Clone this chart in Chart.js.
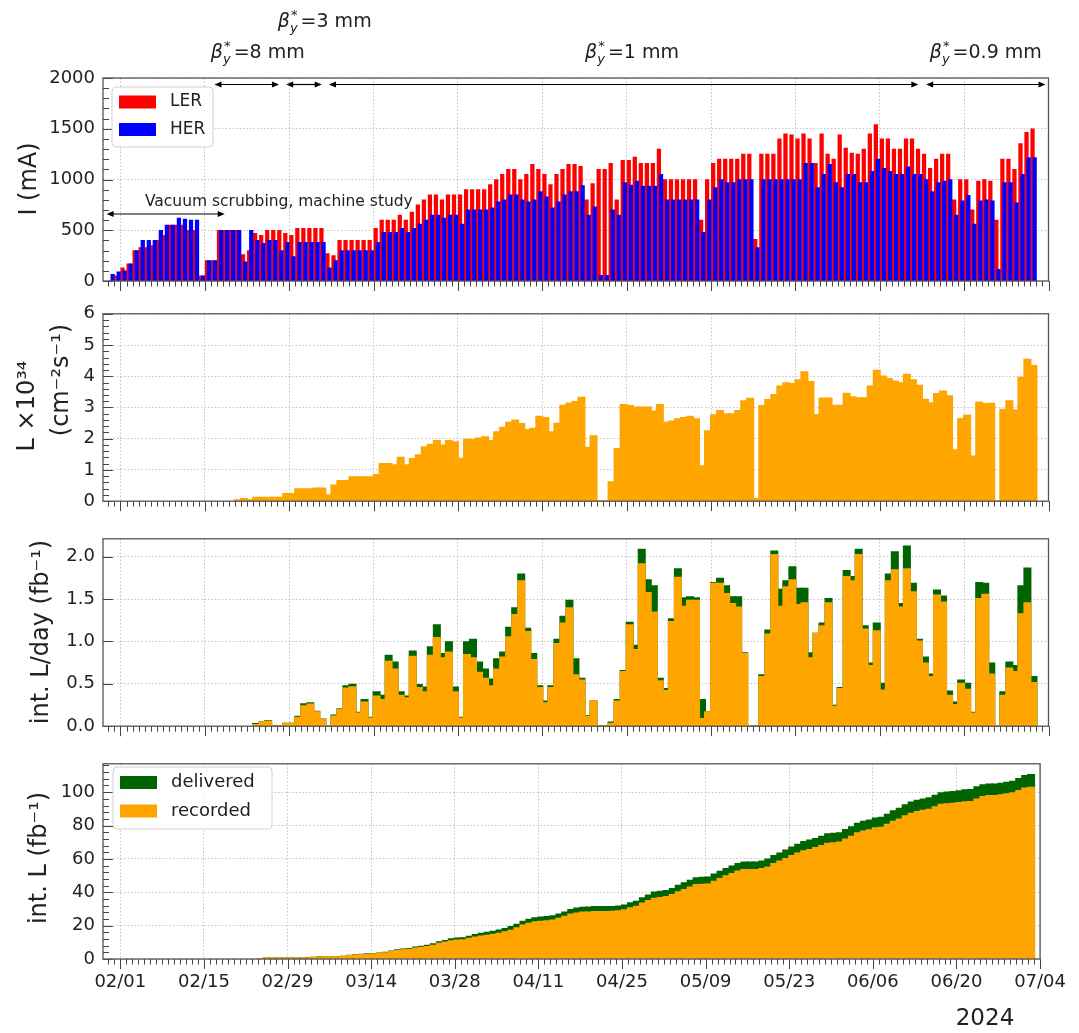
<!DOCTYPE html>
<html>
<head>
<meta charset="utf-8">
<script src="https://cdn.jsdelivr.net/npm/chart.js@4.4.1/dist/chart.umd.min.js"></script>
<style>
    body { margin: 0; background: #fff; }
    #wrap { position: relative; width: 1079px; height: 1033px; overflow: hidden; }
    canvas { position: absolute; left: 0; }
</style>
</head>
<body>
<div id="wrap">
    <canvas id="canvasCurrent" width="1079" height="300" style="top:0px"></canvas>
    <canvas id="canvasLumi" width="1079" height="225" style="top:295px"></canvas>
    <canvas id="canvasDaily" width="1079" height="225" style="top:520px"></canvas>
    <canvas id="canvasIntegrated" width="1079" height="288" style="top:745px"></canvas>
</div>
<script>
"use strict";

// x axis: days counted from 02/01/2024
var tickDays = [0, 14, 28, 42, 56, 70, 84, 98, 112, 126, 140, 154];
var tickLabels = ['02/01', '02/15', '02/29', '03/14', '03/28', '04/11', '04/25', '05/09', '05/23', '06/06', '06/20', '07/04'];

// beam currents (mA), one value per day starting at currentStart
var currentStart = -2;
var lerCurrent = [
    0, 50, 130, 170, 300, 330, 330, 350, 400, 450, 550, 550, 550, 500, 500, 50,
    200, 200, 500, 500, 500, 500, 260, 300, 470, 450, 500, 500, 500, 470, 450, 520,
    520, 520, 520, 520, 270, 250, 400, 400, 400, 400, 400, 400, 520, 600, 600, 600,
    650, 600, 680, 750, 800, 850, 850, 800, 850, 850, 850, 900, 900, 900, 900, 950,
    1000, 1050, 1100, 1100, 1000, 1050, 1150, 1100, 1050, 950, 1050, 1100, 1150, 1150, 1130, 800,
    960, 1100, 1100, 1160, 800, 1190, 1190, 1220, 1160, 1160, 1160, 1300, 1000, 1000, 1000, 1000,
    1000, 1000, 600, 1000, 1160, 1200, 1200, 1200, 1200, 1250, 1250, 410, 1250, 1250, 1250, 1400,
    1450, 1440, 1400, 1450, 1400, 1160, 1450, 1250, 1200, 1440, 1310, 1260, 1250, 1300, 1450, 1540,
    1400, 1400, 1300, 1300, 1400, 1400, 1300, 1250, 1110, 1200, 1250, 1250, 800, 1000, 1000, 700,
    985, 1000, 985, 600, 1200, 1200, 1100, 1355, 1465, 1500
];
var herCurrent = [
    65, 90, 100, 170, 300, 400, 400, 400, 500, 550, 550, 620, 610, 600, 600, 50,
    200, 200, 500, 500, 500, 500, 190, 500, 400, 370, 400, 400, 300, 380, 240, 380,
    380, 380, 380, 380, 130, 200, 300, 300, 300, 300, 300, 300, 380, 480, 480, 480,
    520, 480, 520, 560, 600, 650, 650, 620, 650, 650, 560, 700, 700, 700, 700, 720,
    780, 800, 850, 850, 800, 780, 800, 880, 830, 720, 780, 850, 880, 880, 940, 650,
    730, 55, 55, 700, 650, 970, 945, 985, 935, 935, 935, 1050, 800, 800, 800, 800,
    800, 800, 480, 800, 920, 1000, 970, 970, 1000, 1000, 1000, 330, 1000, 1000, 1000, 1000,
    1000, 1000, 1000, 1160, 1160, 920, 1050, 1150, 970, 920, 1050, 1050, 970, 970, 1080, 1200,
    1110, 1080, 1050, 1050, 1125, 1050, 1050, 1000, 880, 970, 985, 1000, 650, 790, 845, 560,
    790, 800, 790, 115, 970, 970, 770, 1050, 1215, 1215
];

// peak luminosity (10^34 cm^-2 s^-1), starting at lumiStart
var lumiStart = 19;
var peakLumi = [
    0.03, 0.07, 0.03, 0.11, 0.11, 0.11, 0.11, 0.11, 0.23, 0.23, 0.38, 0.38, 0.38, 0.41, 0.41, 0.19,
    0.50, 0.65, 0.65, 0.77, 0.77, 0.77, 0.77, 0.84, 1.19, 1.19, 1.15, 1.39, 1.15, 1.35, 1.47, 1.73,
    1.81, 1.93, 1.78, 1.93, 1.89, 1.36, 1.97, 1.97, 2.01, 2.05, 1.93, 2.21, 2.35, 2.51, 2.58, 2.47,
    2.28, 2.32, 2.70, 2.66, 2.21, 2.48, 3.06, 3.13, 3.18, 3.31, 1.71, 2.08, 0, 0, 0.61, 1.67,
    3.08, 3.05, 3.00, 3.00, 3.00, 2.87, 3.08, 2.51, 2.55, 2.62, 2.66, 2.70, 2.62, 1.12, 2.24, 2.75,
    2.89, 2.78, 2.78, 2.89, 3.20, 3.28, 0.07, 3.05, 3.24, 3.40, 3.67, 3.78, 3.75, 3.87, 4.13, 3.82,
    2.76, 3.29, 3.29, 3.06, 3.06, 3.44, 3.33, 3.30, 3.30, 3.67, 4.18, 3.99, 3.91, 3.83, 3.78, 4.05,
    3.87, 3.70, 3.25, 3.14, 3.43, 3.51, 3.36, 1.63, 2.63, 2.74, 1.43, 3.16, 3.11, 3.12, 0, 2.93,
    3.20, 2.90, 3.95, 4.53, 4.33
];

// integrated luminosity per day (fb^-1), starting at dailyStart
var dailyStart = 22;
var dailyDelivered = [
    0.026, 0.044, 0.06, 0, 0, 0.03, 0.03, 0.11, 0.26, 0.27, 0.17, 0.08, 0, 0.125, 0.20, 0.47,
    0.49, 0.16, 0.31, 0.10, 0.40, 0.36, 0.83, 0.75, 0.40, 0.35, 0.88, 0.485, 0.456, 0.93, 1.19, 0.85,
    0.99, 0.456, 0.10, 0.99, 1.02, 0.75, 0.67, 0.55, 0.79, 0.87, 1.16, 1.39, 1.79, 1.15, 0.85, 0.47,
    0.29, 0.47, 1.02, 1.29, 1.48, 0.79, 0.56, 0.12, 0.29, 0, 0, 0.044, 0.31, 0.65, 1.22, 0.95,
    2.08, 1.72, 1.65, 0.56, 0.44, 1.26, 1.85, 1.51, 1.52, 1.51, 0.31, 0.165, 1.69, 1.74, 1.65, 1.52,
    1.52, 0.86, 0, 0, 0.60, 1.13, 2.06, 1.61, 1.71, 1.875, 1.62, 1.62, 0.86, 1.09, 1.21, 1.50,
    0.24, 0.45, 1.83, 1.76, 2.08, 1.18, 0.74, 1.21, 0.50, 1.79, 2.05, 1.44, 2.12, 1.68, 1.02, 0.81,
    0.61, 1.60, 1.53, 0.41, 0.28, 0.54, 0.50, 0.16, 1.69, 1.68, 0.74, 0, 0.40, 0.75, 0.71, 1.65,
    1.86, 0.58
];
var dailyRecorded = [
    0.015, 0.04, 0.055, 0, 0, 0.03, 0.03, 0.10, 0.235, 0.255, 0.165, 0.075, 0, 0.115, 0.195, 0.445,
    0.46, 0.15, 0.28, 0.09, 0.35, 0.31, 0.76, 0.67, 0.36, 0.33, 0.82, 0.45, 0.40, 0.83, 1.04, 0.80,
    0.87, 0.40, 0.09, 0.84, 0.80, 0.63, 0.56, 0.47, 0.67, 0.81, 1.05, 1.31, 1.71, 1.11, 0.78, 0.45,
    0.27, 0.45, 0.97, 1.21, 1.39, 0.60, 0.54, 0.11, 0.29, 0, 0, 0.03, 0.29, 0.64, 1.19, 0.90,
    1.91, 1.57, 1.34, 0.53, 0.415, 1.23, 1.75, 1.41, 1.48, 1.48, 0.085, 0.165, 1.68, 1.68, 1.56, 1.44,
    1.40, 0.85, 0, 0, 0.58, 1.08, 2.02, 1.41, 1.64, 1.72, 1.43, 1.45, 0.80, 1.09, 1.18, 1.45,
    0.23, 0.44, 1.76, 1.71, 2.02, 1.14, 0.71, 1.12, 0.42, 1.71, 1.84, 1.40, 1.85, 1.58, 1.00, 0.74,
    0.58, 1.54, 1.46, 0.36, 0.25, 0.50, 0.43, 0.15, 1.50, 1.55, 0.61, 0, 0.36, 0.68, 0.64, 1.32,
    1.45, 0.51
];

// cumulative integrated luminosity (fb^-1), starting at intStart
var intStart = 23;
var intDelivered = [
    0.0, 0.1, 0.1, 0.1, 0.1, 0.2, 0.2, 0.3, 0.6, 0.8, 1.0, 1.1, 1.1, 1.2, 1.4, 1.9,
    2.4, 2.5, 2.8, 2.9, 3.3, 3.7, 4.5, 5.3, 5.7, 6.0, 6.9, 7.4, 7.9, 8.8, 10.0, 10.8,
    11.8, 12.3, 12.4, 13.4, 14.4, 15.1, 15.8, 16.4, 17.1, 18.0, 19.2, 20.6, 22.4, 23.5, 24.4, 24.8,
    25.1, 25.6, 26.6, 27.9, 29.4, 30.2, 30.7, 30.8, 31.1, 31.1, 31.1, 31.2, 31.5, 32.1, 33.4, 34.3,
    36.4, 38.1, 39.8, 40.3, 40.8, 42.0, 43.9, 45.4, 46.9, 48.4, 48.7, 48.9, 50.6, 52.3, 54.0, 55.5,
    57.0, 57.9, 57.9, 57.9, 58.5, 59.6, 61.7, 63.3, 65.0, 66.9, 68.5, 70.1, 71.0, 72.0, 73.3, 74.8,
    75.0, 75.4, 77.3, 79.0, 81.1, 82.3, 83.0, 84.2, 84.7, 86.5, 88.6, 90.0, 92.1, 93.8, 94.8, 95.6,
    96.3, 97.9, 99.4, 99.8, 100.1, 100.6, 101.1, 101.3, 103.0, 104.2, 104.6, 104.6, 105.0, 105.6, 106.3, 107.9,
    109.7, 110.3
];
var intRecorded = [
    0.0, 0.1, 0.1, 0.1, 0.1, 0.1, 0.2, 0.3, 0.5, 0.8, 0.9, 1.0, 1.0, 1.1, 1.3, 1.8,
    2.2, 2.4, 2.6, 2.7, 3.1, 3.4, 4.2, 4.8, 5.2, 5.5, 6.3, 6.8, 7.2, 8.0, 9.1, 9.9,
    10.7, 11.1, 11.2, 12.1, 12.9, 13.5, 14.0, 14.5, 15.2, 16.0, 17.0, 18.4, 20.1, 21.2, 22.0, 22.4,
    22.7, 23.1, 24.1, 25.3, 26.7, 27.3, 27.8, 27.9, 28.2, 28.2, 28.2, 28.3, 28.6, 29.2, 30.4, 31.3,
    33.2, 34.8, 36.1, 36.6, 37.1, 38.3, 40.0, 41.4, 42.9, 44.4, 44.5, 44.7, 46.3, 48.0, 49.6, 51.0,
    52.4, 53.3, 53.3, 53.3, 53.9, 54.9, 57.0, 58.4, 60.0, 61.7, 63.2, 64.6, 65.4, 66.5, 67.7, 69.1,
    69.4, 69.8, 71.6, 73.3, 75.3, 76.4, 77.1, 78.3, 78.7, 80.4, 82.2, 83.6, 85.5, 87.1, 88.1, 88.8,
    89.4, 90.9, 92.4, 92.7, 93.0, 93.5, 93.9, 94.1, 95.6, 97.1, 97.7, 97.7, 98.1, 98.8, 99.4, 100.7,
    102.2, 102.7
];

// beta* periods (labels and spans in days)
var betaLabels = ['=8 mm', '=3 mm', '=1 mm', '=0.9 mm'];
var betaFrom = [15.6, 27.5, 34.6, 133.7];
var betaTo = [26.3, 33.4, 132.4, 153.5];

var FONT = '"DejaVu Sans", sans-serif';
var TEXT = '#222';
var GRID = '#b4b4b4';
var X_MIN = -2.9;
var X_MAX = 154;

function series(start, values, shift) {
    return values.map(function (v, i) {
        return { x: start + i + shift, y: v };
    });
}

function font(size, style) {
    return (style ? style + ' ' : '') + size + 'px ' + FONT;
}

function drawRotated(ctx, text, x, y, size) {
    ctx.save();
    ctx.translate(x, y);
    ctx.rotate(-Math.PI / 2);
    ctx.font = font(size);
    ctx.fillStyle = TEXT;
    ctx.textAlign = 'center';
    ctx.textBaseline = 'middle';
    ctx.fillText(text, 0, 0);
    ctx.restore();
}

function drawArrow(ctx, x1, x2, y) {
    ctx.save();
    ctx.strokeStyle = '#000';
    ctx.fillStyle = '#000';
    ctx.lineWidth = 1.2;
    ctx.beginPath();
    ctx.moveTo(x1 + 4, y);
    ctx.lineTo(x2 - 4, y);
    ctx.stroke();
    [[x1, 1], [x2, -1]].forEach(function (p) {
        ctx.beginPath();
        ctx.moveTo(p[0], y);
        ctx.lineTo(p[0] + p[1] * 7, y - 3);
        ctx.lineTo(p[0] + p[1] * 7, y + 3);
        ctx.closePath();
        ctx.fill();
    });
    ctx.restore();
}

function drawBeta(ctx, x, y, rest, size) {
    ctx.save();
    ctx.fillStyle = TEXT;
    ctx.textAlign = 'left';
    ctx.textBaseline = 'alphabetic';
    ctx.font = font(size, 'italic');
    ctx.fillText('\u03b2', x, y);
    var w = ctx.measureText('\u03b2').width;
    var small = Math.round(size * 0.7);
    ctx.font = font(small);
    ctx.fillText('*', x + w + 1, y - size * 0.42);
    ctx.font = font(small, 'italic');
    ctx.fillText('y', x + w, y + size * 0.28);
    var w2 = w + ctx.measureText('y').width + 3;
    ctx.font = font(size);
    ctx.fillText(rest, x + w2, y);
    ctx.restore();
}

function drawLegend(ctx, box, items, size) {
    ctx.save();
    ctx.beginPath();
    ctx.roundRect(box[0], box[1], box[2], box[3], 4);
    ctx.fillStyle = 'rgba(255,255,255,0.85)';
    ctx.fill();
    ctx.strokeStyle = '#d0d0d0';
    ctx.lineWidth = 1;
    ctx.stroke();
    ctx.font = font(size);
    ctx.textBaseline = 'middle';
    ctx.textAlign = 'left';
    items.forEach(function (it) {
        ctx.fillStyle = it.color;
        ctx.fillRect(box[0] + 7, it.y - 6.5, 37, 13);
        ctx.fillStyle = TEXT;
        ctx.fillText(it.label, box[0] + 58, it.y);
    });
    ctx.restore();
}

// ticks (x outward, y inward), frame and extra drawings for one panel
function panelDecor(cfg) {
    return {
        id: 'decor',
        afterDatasetsDraw: function (chart) {
            var ctx = chart.ctx, a = chart.chartArea, xs = chart.scales.x, ys = chart.scales.y;
            ctx.save();
            ctx.strokeStyle = '#444';
            ctx.lineWidth = 1;
            for (var d = Math.ceil(X_MIN); d <= X_MAX; d++) {
                var px = Math.round(xs.getPixelForValue(d)) + 0.5;
                var len = tickDays.indexOf(d) >= 0 ? 10 : 5.5;
                ctx.beginPath();
                ctx.moveTo(px, a.bottom);
                ctx.lineTo(px, a.bottom + len);
                ctx.stroke();
            }
            if (cfg.yMinor) {
                for (var i = 0; i * cfg.yMinor <= ys.max + 1e-9; i++) {
                    var py = Math.round(ys.getPixelForValue(i * cfg.yMinor)) + 0.5;
                    ctx.beginPath();
                    ctx.moveTo(a.left, py);
                    ctx.lineTo(a.left + 6, py);
                    ctx.stroke();
                }
            }
            ys.ticks.forEach(function (t) {
                var py = Math.round(ys.getPixelForValue(t.value)) + 0.5;
                ctx.beginPath();
                ctx.moveTo(a.left, py);
                ctx.lineTo(a.left + 10, py);
                ctx.stroke();
            });
            ctx.strokeStyle = '#555';
            ctx.lineWidth = 1.3;
            ctx.strokeRect(a.left, a.top, a.right - a.left, a.bottom - a.top);
            ctx.restore();
        },
        afterDraw: function (chart) {
            cfg.titles.forEach(function (t) {
                drawRotated(chart.ctx, t[0], t[1], t[2], 24);
            });
            if (cfg.extra) cfg.extra(chart);
        }
    };
}

function makeChart(canvasId, datasets, p) {
    var bottom = !!p.bottom;
    return new Chart(document.getElementById(canvasId), {
        type: 'bar',
        data: { datasets: datasets },
        options: {
            responsive: false,
            animation: false,
            devicePixelRatio: 1,
            events: [],
            layout: { padding: { top: p.padTop, right: 30.5, bottom: p.padBottom, left: 0 } },
            plugins: { legend: { display: false }, tooltip: { enabled: false } },
            scales: {
                x: {
                    type: 'linear',
                    min: X_MIN,
                    max: X_MAX,
                    offset: false,
                    bounds: 'data',
                    afterBuildTicks: function (s) {
                        s.ticks = tickDays.map(function (v) { return { value: v }; });
                    },
                    afterFit: function (s) { s.height = bottom ? 74 : 0; },
                    ticks: {
                        display: bottom,
                        autoSkip: false,
                        maxRotation: 0,
                        padding: 13,
                        color: TEXT,
                        font: { family: FONT, size: 18 },
                        callback: function (v) { return tickLabels[tickDays.indexOf(v)]; }
                    },
                    grid: { color: GRID, lineWidth: 0.8, drawTicks: false, offset: false },
                    border: { display: false, dash: [1.5, 2] }
                },
                y: {
                    type: 'linear',
                    min: 0,
                    max: p.yMax,
                    bounds: 'data',
                    afterBuildTicks: function (s) {
                        s.ticks = p.yTicks.map(function (v) { return { value: v }; });
                    },
                    afterFit: function (s) { s.width = 103; },
                    ticks: {
                        autoSkip: false,
                        padding: 8,
                        color: TEXT,
                        font: { family: FONT, size: 18 },
                        callback: p.yFmt
                    },
                    grid: { color: GRID, lineWidth: 0.8, drawTicks: false },
                    border: { display: false, dash: [1.5, 2] }
                }
            }
        },
        plugins: [panelDecor(p)]
    });
}

function plain(v) { return String(v); }

// full-day step bars, slightly inflated so neighbours join without seams
function dayBars(label, data, color) {
    return { label: label, data: data, backgroundColor: color, barPercentage: 1, categoryPercentage: 1, grouped: false, inflateAmount: 1 };
}

// panel 1: beam currents
makeChart('canvasCurrent', [
    { label: 'HER', data: series(currentStart, herCurrent, 0.7), backgroundColor: '#0000ff', barThickness: 3.6, grouped: false },
    { label: 'LER', data: series(currentStart, lerCurrent, 0.35), backgroundColor: '#ff0000', barThickness: 3.6, grouped: false }
], {
    padTop: 78, padBottom: 19, yMax: 2000, yTicks: [0, 500, 1000, 1500, 2000], yFmt: plain, yMinor: 100,
    titles: [['I (mA)', 30, 179]],
    extra: function (chart) {
        var ctx = chart.ctx, xs = chart.scales.x, ys = chart.scales.y;
        var rows = [58, 27, 58, 58];
        var at = [15.0, 26.1, 77.1, 134.3];
        betaLabels.forEach(function (lbl, i) {
            drawBeta(ctx, xs.getPixelForValue(at[i]), rows[i], lbl, 19);
            drawArrow(ctx, xs.getPixelForValue(betaFrom[i]), xs.getPixelForValue(betaTo[i]), chart.chartArea.top + 6.5);
        });
        drawArrow(ctx, xs.getPixelForValue(-2.3), xs.getPixelForValue(17.3), ys.getPixelForValue(660));
        ctx.save();
        ctx.font = font(15.5);
        ctx.fillStyle = TEXT;
        ctx.textAlign = 'left';
        ctx.fillText('Vacuum scrubbing, machine study', xs.getPixelForValue(4.05), ys.getPixelForValue(735));
        ctx.restore();
        drawLegend(ctx, [112, 87, 101, 60], [
            { color: '#ff0000', label: 'LER', y: 102 },
            { color: '#0000ff', label: 'HER', y: 129.5 }
        ], 17);
    }
});

// panel 2: peak luminosity
makeChart('canvasLumi', [
    dayBars('L', series(lumiStart, peakLumi, 0.5), '#ffa500')
], {
    padTop: 8, padBottom: 13, yMax: 6, yTicks: [0, 1, 2, 3, 4, 5, 6], yFmt: plain, yMinor: 0.2,
    titles: [['L \u00d710\u00b3\u2074', 28, 111], ['(cm\u207b\u00b2s\u207b\u00b9)', 62, 85]]
});

// panel 3: integrated luminosity per day
makeChart('canvasDaily', [
    dayBars('recorded', series(dailyStart, dailyRecorded, 0.5), '#ffa500'),
    dayBars('delivered', series(dailyStart, dailyDelivered, 0.5), '#006400')
], {
    padTop: 11, padBottom: 13, yMax: 2.21, yTicks: [0, 0.5, 1, 1.5, 2],
    yFmt: function (v) { return v.toFixed(1); },
    titles: [['int. L/day (fb\u207b\u00b9)', 42, 112]]
});

// panel 4: cumulative integrated luminosity
makeChart('canvasIntegrated', [
    dayBars('recorded', series(intStart, intRecorded, 0.5), '#ffa500'),
    dayBars('delivered', series(intStart, intDelivered, 0.5), '#006400')
], {
    padTop: 12, padBottom: 0, bottom: true, yMax: 117, yTicks: [0, 20, 40, 60, 80, 100], yFmt: plain, yMinor: 4,
    titles: [['int. L (fb\u207b\u00b9)', 40, 113]],
    extra: function (chart) {
        var ctx = chart.ctx;
        drawLegend(ctx, [113, 22, 159, 62], [
            { color: '#006400', label: 'delivered', y: 37.5 },
            { color: '#ffa500', label: 'recorded', y: 66 }
        ], 18);
        ctx.save();
        ctx.font = font(23);
        ctx.fillStyle = TEXT;
        ctx.textAlign = 'center';
        ctx.textBaseline = 'middle';
        ctx.fillText('2024', 985, 274);
        ctx.restore();
    }
});
</script>
</body>
</html>
